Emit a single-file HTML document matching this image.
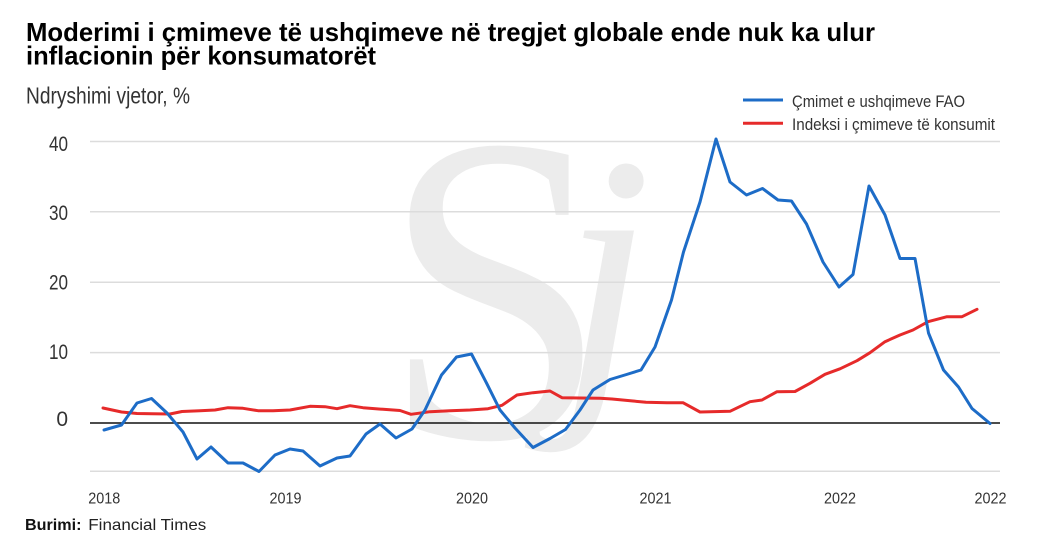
<!DOCTYPE html>
<html>
<head>
<meta charset="utf-8">
<style>
html,body{margin:0;padding:0;background:#fff;}
svg{display:block;}
text{font-family:"Liberation Sans",sans-serif;}
</style>
</head>
<body>
<svg width="1054" height="550" viewBox="0 0 1054 550" xmlns="http://www.w3.org/2000/svg">
<rect width="1054" height="550" fill="#fff"/>

<!-- watermark -->
<g fill="#ececec">
<text x="495" y="437" font-size="440" text-anchor="middle" style="font-family:'Liberation Serif',serif" transform="translate(495 0) scale(0.92 1) translate(-495 0)">S</text>
<text x="560" y="382" font-size="330" font-style="italic" style="font-family:'Liberation Serif',serif">j</text>
</g>

<!-- title -->
<text x="26" y="41" font-size="26" font-weight="bold" fill="#000" textLength="849" lengthAdjust="spacingAndGlyphs">Moderimi i çmimeve të ushqimeve në tregjet globale ende nuk ka ulur</text>
<text x="26" y="64.5" font-size="26" font-weight="bold" fill="#000" textLength="350" lengthAdjust="spacingAndGlyphs">inflacionin për konsumatorët</text>
<text x="26" y="103.5" font-size="23" fill="#333" textLength="164" lengthAdjust="spacingAndGlyphs">Ndryshimi vjetor, %</text>

<!-- legend -->
<line x1="743" y1="100" x2="783" y2="100" stroke="#1d6cc7" stroke-width="3"/>
<line x1="743" y1="123.3" x2="783" y2="123.3" stroke="#e62a2a" stroke-width="3"/>
<text x="792" y="107" font-size="16.5" fill="#333" textLength="173" lengthAdjust="spacingAndGlyphs">Çmimet e ushqimeve FAO</text>
<text x="792" y="130" font-size="16.5" fill="#333" textLength="203" lengthAdjust="spacingAndGlyphs">Indeksi i çmimeve të konsumit</text>

<!-- gridlines -->
<g stroke="#dcdcdc" stroke-width="1.5">
<line x1="90" y1="141.5" x2="1000" y2="141.5"/>
<line x1="90" y1="211.7" x2="1000" y2="211.7"/>
<line x1="90" y1="282.3" x2="1000" y2="282.3"/>
<line x1="90" y1="352.6" x2="1000" y2="352.6"/>
<line x1="90" y1="471.3" x2="1000" y2="471.3"/>
</g>
<line x1="90" y1="423" x2="1000" y2="423" stroke="#111" stroke-width="1.5"/>

<!-- y labels -->
<g font-size="21" fill="#333" text-anchor="end">
<text x="68" y="151" textLength="19" lengthAdjust="spacingAndGlyphs">40</text>
<text x="68" y="220" textLength="19" lengthAdjust="spacingAndGlyphs">30</text>
<text x="68" y="289.5" textLength="19" lengthAdjust="spacingAndGlyphs">20</text>
<text x="68" y="359" textLength="19" lengthAdjust="spacingAndGlyphs">10</text>
<text x="68" y="426">0</text>
</g>

<!-- x labels -->
<g font-size="16" fill="#333">
<text x="88.3" y="503.3" textLength="32" lengthAdjust="spacingAndGlyphs">2018</text>
<text x="269.5" y="503.3" textLength="32" lengthAdjust="spacingAndGlyphs">2019</text>
<text x="456" y="503.3" textLength="32" lengthAdjust="spacingAndGlyphs">2020</text>
<text x="639.5" y="503.3" textLength="32" lengthAdjust="spacingAndGlyphs">2021</text>
<text x="824" y="503.3" textLength="32" lengthAdjust="spacingAndGlyphs">2022</text>
<text x="974.5" y="503.3" textLength="32" lengthAdjust="spacingAndGlyphs">2022</text>
</g>

<!-- red series -->
<polyline fill="none" stroke="#e62a2a" stroke-width="3" stroke-linejoin="round" stroke-linecap="round" points="103,408 121.5,412 137,413.5 152,413.7 170,414 182,411.5 200,410.7 215,410 228,407.7 243,408.3 258,410.7 273,410.7 290,410 310,406.3 325,406.7 337,408.7 350,405.7 363,407.7 383,409.3 400,410.5 411,414.3 430,411.7 450,410.7 470,410 488,408.7 502,405.3 517,395 533,392.7 550,391 562,397.7 580,398 600,398.3 612,399 633,401 646,402.3 667,402.7 683,402.7 700,412 730,411.3 750,401.7 762,400 777,391.7 795,391.5 810,383.3 825,374.3 840,368.8 857,360.7 870,352.7 885,341.7 900,335 913,330 928,321.7 947,316.7 962,316.7 977,309.3"/>

<!-- blue series -->
<polyline fill="none" stroke="#1d6cc7" stroke-width="3" stroke-linejoin="round" stroke-linecap="round" points="104,430 121.5,425 137,403 151.5,398.5 167,413 183,432 197,459 211,447 228,463 243,463 259,471.5 275,455 290,449 303,451 320,466 337,458 350,456 366,434 380,424 396,438 412,429 425,410 441.5,375 456.5,357 471.5,354 486.5,383 500,410 515,428 533,447.5 550,438.5 565.5,429.5 580,410 593,390 610,379.5 626.5,374.5 641,370 655,347 671.5,300 683.5,252 700,202 716,139 730,182 746.5,195 762.5,188.5 778,200 791.5,201 806.5,224 823,262 839,287 853,274.5 869,186 885,215 900,258.5 915,258.5 928.5,333 943.5,370 958.5,387 972,408.5 990,423.5"/>

<!-- source -->
<text x="25" y="530" font-size="16" font-weight="bold" fill="#111" textLength="56.5" lengthAdjust="spacingAndGlyphs">Burimi:</text>
<text x="88.3" y="530" font-size="16" fill="#222" textLength="118" lengthAdjust="spacingAndGlyphs">Financial Times</text>
</svg>
</body>
</html>
